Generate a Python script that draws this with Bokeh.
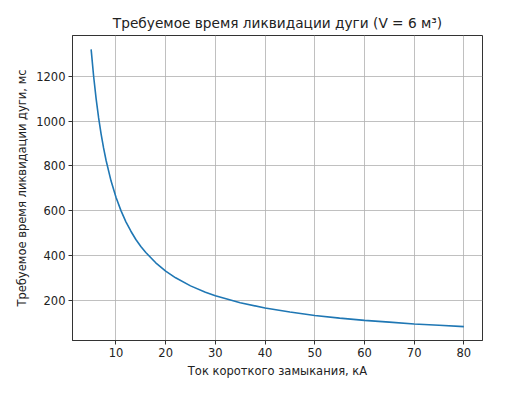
from bokeh.plotting import figure
from bokeh.models import Range1d, FixedTicker
from bokeh.embed import file_html
from bokeh.resources import INLINE

# Short-circuit current, kA
current_ka = [5, 5.5, 6, 6.5, 7, 7.5, 8, 9, 10, 11, 12, 13, 14, 15, 16, 18, 20,
              22, 25, 28, 30, 35, 40, 45, 50, 55, 60, 65, 70, 75, 80]
# Required arc elimination time, ms
time_ms = [1320, 1200, 1100, 1015, 943, 880, 825, 733, 660, 600, 550, 508, 471,
           440, 413, 367, 330, 300, 264, 236, 220, 189, 165, 147, 132, 120, 110,
           102, 94, 88, 82]

x_ticks = [10, 20, 30, 40, 50, 60, 70, 80]
y_ticks = [200, 400, 600, 800, 1000, 1200]

FONT = "DejaVu Sans"

xpad = (max(current_ka) - min(current_ka)) * 0.05
ypad = (max(time_ms) - min(time_ms)) * 0.05

p = figure(width=507, height=381, output_backend="svg", toolbar_location=None,
           x_range=Range1d(min(current_ka) - xpad, max(current_ka) + xpad),
           y_range=Range1d(min(time_ms) - ypad, max(time_ms) + ypad),
           min_border_left=72, min_border_right=25, min_border_top=35,
           min_border_bottom=41)

p.title.text = "Требуемое время ликвидации дуги (V = 6 м³)"
p.title.text_font = FONT
p.title.text_font_style = "normal"
p.title.text_font_size = "13.7px"
p.title.align = "center"
p.title.text_color = "#222222"

p.line(current_ka, time_ms, line_color="#1f77b4", line_width=1.6)

p.outline_line_color = "#333333"
p.outline_line_width = 1
p.outline_line_alpha = 1

for ax, ticks, label in ((p.xaxis[0], x_ticks, "Ток короткого замыкания, кА"),
                         (p.yaxis[0], y_ticks, "Требуемое время ликвидации дуги, мс")):
    ax.ticker = FixedTicker(ticks=ticks)
    ax.axis_label = label
    ax.axis_label_text_font = FONT
    ax.axis_label_text_font_style = "normal"
    ax.axis_label_text_font_size = "11.5px"
    ax.axis_label_text_color = "#222222"
    ax.major_label_text_font = FONT
    ax.major_label_text_font_size = "11.5px"
    ax.major_label_text_color = "#222222"
    ax.axis_line_color = "#333333"
    ax.major_tick_line_color = "#333333"
    ax.major_tick_out = 4
    ax.major_tick_in = 0
    ax.minor_tick_line_color = None
    ax.axis_label_standoff = 4
    ax.major_label_standoff = 3

p.xgrid.ticker = FixedTicker(ticks=x_ticks)
p.ygrid.ticker = FixedTicker(ticks=y_ticks)
for g in (p.xgrid[0], p.ygrid[0]):
    g.grid_line_color = "#b0b0b0"
    g.grid_line_width = 1
    g.grid_line_alpha = 0.8

p.background_fill_color = "white"
p.border_fill_color = "white"

open("out.html", "w").write(file_html(p, INLINE))
